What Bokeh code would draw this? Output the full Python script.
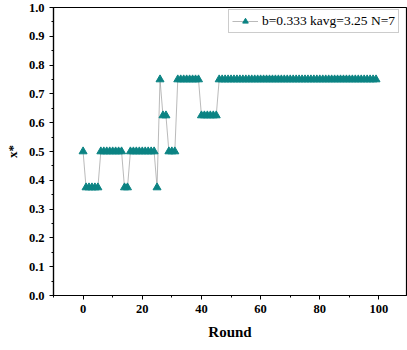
from bokeh.plotting import figure
from bokeh.models import Legend, LegendItem, FixedTicker, Range1d, CustomJSTickFormatter
from bokeh.embed import file_html
from bokeh.resources import INLINE

# data
rounds = list(range(100))
xstar = ([0.5] + [0.375]*5 + [0.5]*8 + [0.375]*2 + [0.5]*9 + [0.375] + [0.75]
         + [0.625]*2 + [0.5]*3 + [0.75]*8 + [0.625]*6 + [0.75]*54)
series_label = "b=0.333 kavg=3.25 N=7"
x_ticks = [0, 20, 40, 60, 80, 100]
y_ticks = [round(0.1*i, 1) for i in range(11)]

FONT = "Liberation Serif"
TEAL = "#0b8383"

p = figure(width=407, height=350, output_backend="svg", toolbar_location=None,
           x_range=Range1d(-10, 109.3), y_range=Range1d(0, 1),
           min_border_left=53, min_border_right=1, min_border_top=7, min_border_bottom=55)
p.xgrid.visible = False
p.ygrid.visible = False
p.outline_line_color = "black"
p.outline_line_width = 1.2
p.background_fill_color = "white"
p.border_fill_color = "white"

ln = p.line(rounds, xstar, line_color="#8c8c8c", line_width=0.6)
sc = p.scatter(rounds, xstar, marker="triangle", size=8, fill_color=TEAL, line_color=TEAL)

for ax in (p.xaxis[0], p.yaxis[0]):
    ax.axis_line_width = 1.2
    ax.major_tick_in = 0
    ax.major_tick_out = 4
    ax.minor_tick_in = 0
    ax.minor_tick_out = 2
    ax.major_label_text_font = FONT
    ax.major_label_text_font_style = "bold"
    ax.major_label_text_font_size = "12.5px"
    ax.major_label_text_color = "black"
    ax.axis_label_text_font = FONT
    ax.axis_label_text_font_style = "bold"
    ax.axis_label_text_color = "black"

p.xaxis.ticker = FixedTicker(ticks=x_ticks, minor_ticks=list(range(-10, 111, 10)))
p.yaxis.ticker = FixedTicker(ticks=y_ticks, minor_ticks=[round(0.05*i, 2) for i in range(21)])
p.yaxis.formatter = CustomJSTickFormatter(code="return tick.toFixed(1);")
p.xaxis.axis_label = "Round"
p.xaxis.axis_label_text_font_size = "15px"
p.xaxis.axis_label_standoff = 8
p.yaxis.axis_label = "x*"
p.yaxis.axis_label_text_font_size = "13px"
p.yaxis.axis_label_standoff = 6

legend = Legend(items=[LegendItem(label=series_label, renderers=[ln, sc])],
                location=(175, 262), orientation="vertical")
legend.label_text_font = FONT
legend.label_text_font_size = "13.5px"
legend.label_text_color = "black"
legend.border_line_color = "#999999"
legend.border_line_width = 1
legend.padding = 3
legend.spacing = 0
legend.glyph_width = 26
legend.glyph_height = 14
legend.label_standoff = 4
legend.background_fill_alpha = 1
p.add_layout(legend)

open("out.html", "w").write(file_html(p, INLINE))
